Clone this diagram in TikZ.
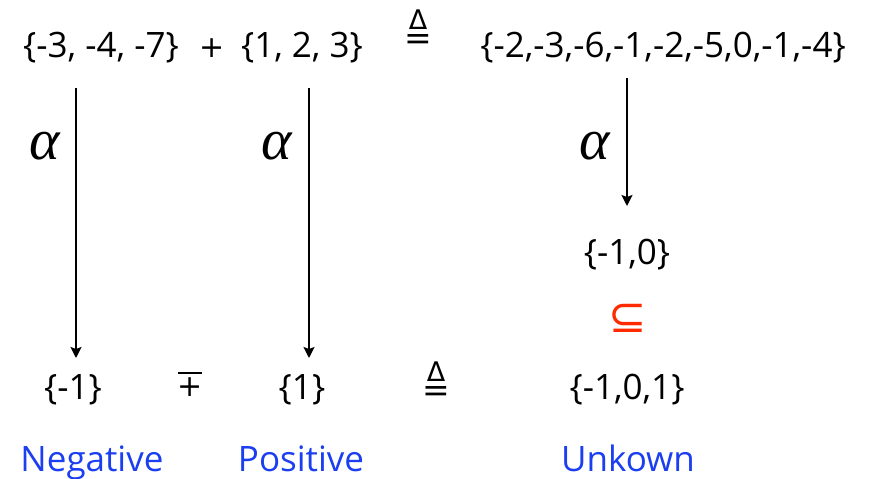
\documentclass[tikz,border=0pt]{standalone}
\usepackage{fontspec}
\setmainfont{Open Sans}
\newfontfamily\greekit{Liberation Serif}
\newfontfamily\symfont{DejaVu Sans}
\usetikzlibrary{arrows.meta}
\definecolor{lblue}{HTML}{1A3EF0}
\definecolor{sred}{HTML}{FF2A00}
\tikzset{
  txt/.style={inner sep=0pt, font=\fontsize{35}{40}\selectfont},
  lbl/.style={txt, text=lblue, anchor=base},
  sym/.style={inner sep=0pt, font=\symfont\fontsize{30}{34}\selectfont},
  alph/.style={inner sep=0pt, font=\greekit\itshape\fontsize{58}{62}\selectfont},
  arr/.style={line width=1.8pt, -{Stealth[length=11pt,width=11pt,inset=2pt]}},
}
\newcommand{\deltaeq}{\vbox{\offinterlineskip\halign{\hfil##\hfil\cr
  {\symfont\fontsize{27}{27}\selectfont Δ}\cr\noalign{\kern5pt}
  {\symfont\fontsize{33}{33}\selectfont =}\cr}}}
\newcommand{\barplus}{\vbox{\offinterlineskip\halign{\hfil##\hfil\cr
  \rule{24pt}{2pt}\cr\noalign{\kern4pt}
  {\symfont\fontsize{30}{30}\selectfont +}\cr}}}
\begin{document}
\begin{tikzpicture}[x=1pt,y=-1pt]
\useasboundingbox (0,0) rectangle (871,479);
% top row
\node[txt] (A) at (101,48) {\{-3, -4, -7\}};
\node[sym] (plus) at (212,48) {+};
\node[txt] (B) at (302,48) {\{1, 2, 3\}};
\node[inner sep=0pt] (eq1) at (418,30) {\deltaeq};
\node[txt] (C) at (663,48) {\{-2,-3,-6,-1,-2,-5,0,-1,-4\}};
% alphas
\node[alph] (al1) at (45,146) {α};
\node[alph] (al2) at (277,146) {α};
\node[alph] (al3) at (595,146) {α};
% middle right
\node[inner sep=0pt, text=sred, font=\symfont\fontsize{46}{50}\selectfont] (sub) at (628,318) {⊆};
\node[txt] (D) at (627,255) {\{-1,0\}};
% bottom row
\node[txt] (N) at (73,390) {\{-1\}};
\node[inner sep=0pt] (oplus) at (190,384) {\barplus};
\node[txt] (P) at (302,390) {\{1\}};
\node[inner sep=0pt] (eq2) at (436,382) {\deltaeq};
\node[txt] (U) at (627,390) {\{-1,0,1\}};
% labels
\node[lbl] (ln) at (92,471) {Negative};
\node[lbl] (lp) at (301,471) {Positive};
\node[lbl] (lu) at (628,471) {Unkown};
% arrows
\coordinate (s1) at (76,88);
\coordinate (e1) at (76,358);
\coordinate (s2) at (309,88);
\coordinate (e2) at (309,358);
\coordinate (s3) at (627,78);
\coordinate (e3) at (627,206);
\draw[arr] (s1) -- (e1);
\draw[arr] (s2) -- (e2);
\draw[arr] (s3) -- (e3);
\end{tikzpicture}
\end{document}
